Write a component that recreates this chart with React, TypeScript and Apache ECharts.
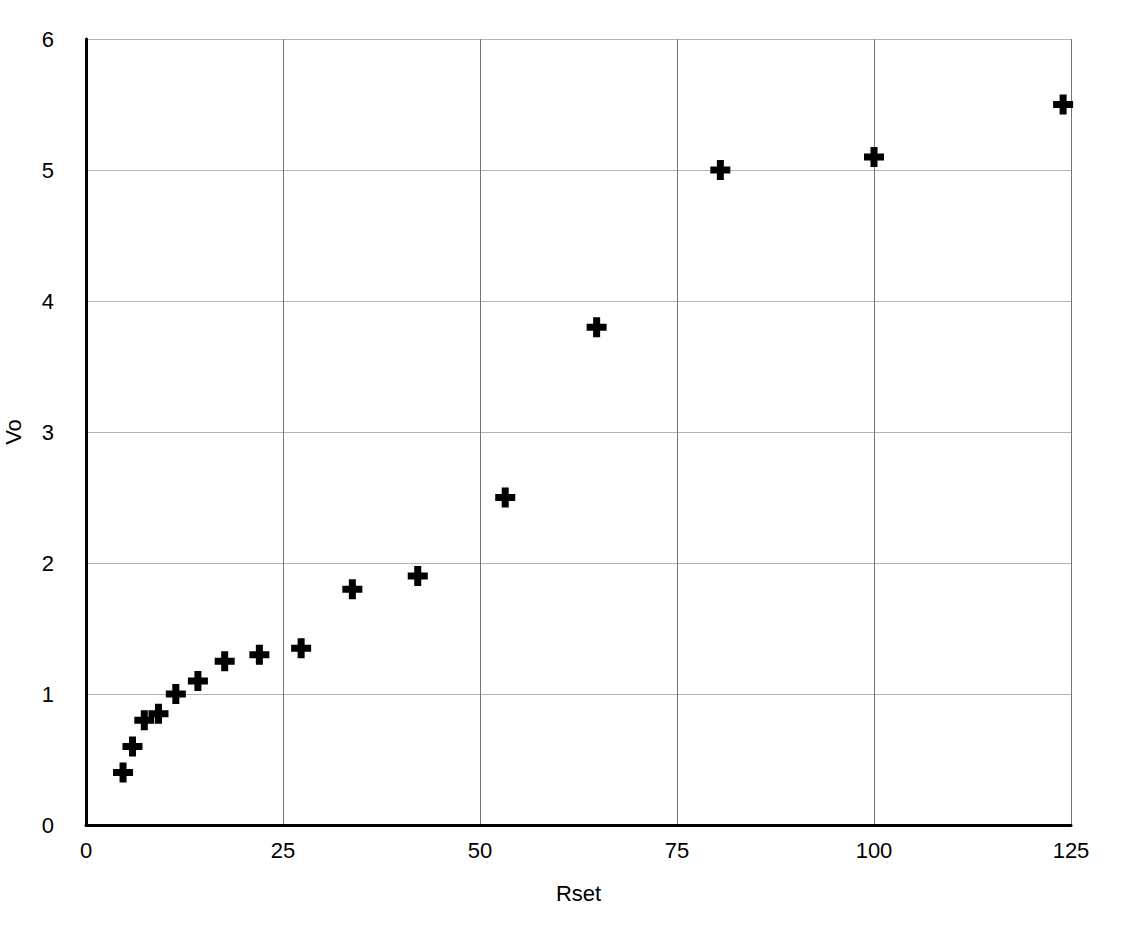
import React, { useEffect, useRef } from "react";
import * as echarts from "echarts";

const rsetValues = [4.7, 5.9, 7.4, 9.2, 11.4, 14.2, 17.6, 22.0, 27.3, 33.8, 42.1, 53.2, 64.8, 80.5, 100.0, 124.0];
const voValues = [0.4, 0.6, 0.8, 0.85, 1.0, 1.1, 1.25, 1.3, 1.35, 1.8, 1.9, 2.5, 3.8, 5.0, 5.1, 5.5];
const xTicks = { min: 0, max: 125, interval: 25 };
const yTicks = { min: 0, max: 6, interval: 1 };
const xName = "Rset";
const yName = "Vo";

const PLUS = "path://M6.5,0 H13.5 V6.5 H20 V13.5 H13.5 V20 H6.5 V13.5 H0 V6.5 H6.5 Z";

export default function App() {
  const ref = useRef<HTMLDivElement>(null);
  useEffect(() => {
    if (!ref.current) return;
    const chart = echarts.init(ref.current, null, { renderer: "svg" });
    const font = "'Liberation Sans', Arial, Helvetica, sans-serif";
    chart.setOption({
      animation: false,
      backgroundColor: "#ffffff",
      textStyle: { fontFamily: font },
      grid: { left: 86, right: 51, top: 39, bottom: 103, containLabel: false, outerBoundsMode: "none" },
      xAxis: {
        type: "value",
        min: xTicks.min,
        max: xTicks.max,
        interval: xTicks.interval,
        name: xName,
        nameLocation: "middle",
        nameGap: 57,
        nameTextStyle: { color: "#000", fontSize: 22, fontFamily: font },
        axisLine: { show: true, onZero: false, lineStyle: { color: "#000", width: 3 } },
        axisTick: { show: false },
        axisLabel: { color: "#000", fontSize: 22, margin: 14, fontFamily: font },
        splitLine: { show: true, lineStyle: { color: "#777", width: 1 } },
      },
      yAxis: {
        type: "value",
        min: yTicks.min,
        max: yTicks.max,
        interval: yTicks.interval,
        name: yName,
        nameLocation: "middle",
        nameGap: 62,
        nameRotate: 90,
        nameTextStyle: { color: "#000", fontSize: 22, fontFamily: font },
        axisLine: { show: true, onZero: false, lineStyle: { color: "#000", width: 3 } },
        axisTick: { show: false },
        axisLabel: { color: "#000", fontSize: 22, margin: 32, fontFamily: font },
        splitLine: { show: true, lineStyle: { color: "#b4b4b4", width: 1 } },
      },
      series: [
        {
          type: "scatter",
          data: rsetValues.map((x, i) => [x, voValues[i]]),
          symbol: PLUS,
          symbolSize: 20,
          itemStyle: { color: "#000", opacity: 1 },
          z: 5,
        },
      ],
    });
    return () => chart.dispose();
  }, []);
  return (
    <div
      ref={ref}
      style={{ position: "fixed", left: 0, top: 0, width: 1122, height: 928, background: "#fff" }}
    />
  );
}
